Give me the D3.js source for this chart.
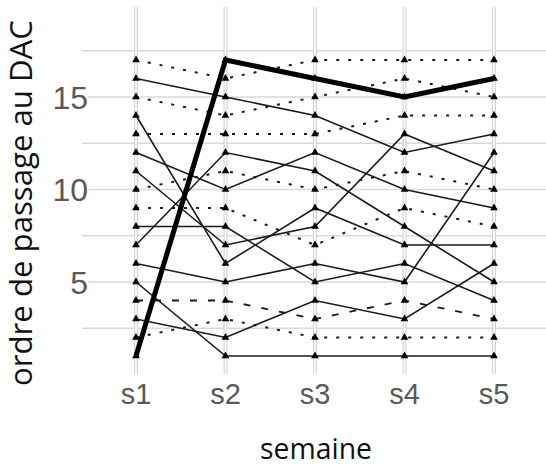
<!DOCTYPE html>
<html><head><meta charset="utf-8">
<script src="https://cdn.jsdelivr.net/npm/d3@7"></script>
<style>html,body{margin:0;padding:0;background:#fff;}svg{display:block;}</style>
</head><body>
<svg id="c" width="546" height="466"></svg>
<script>
const weeks = ["s1","s2","s3","s4","s5"];
const yTicks = [5,10,15];
const yGrid = [2.5,5,7.5,10,12.5,15,17.5];
const thickSeries = [[1,17,16,15,16]];
const solidSeries = [
  [3,2,4,3,6],[5,1,1,1,1],[6,5,6,5,12],[7,12,11,8,5],[8,8,5,6,4],
  [11,7,8,13,11],[12,10,12,10,9],[14,6,9,7,7],[16,15,14,12,13]
];
const dottedSeries = [[2,3,2,2,2],[9,9,7,9,8],[10,11,10,11,10],[13,13,13,14,14],[15,14,15,16,15],[17,16,17,17,17]];
const dashedSeries = [[4,4,3,4,3]];
const xTitle = "semaine";
const yTitle = "ordre de passage au DAC";

const svg = d3.select("#c");
const x = d3.scalePoint().domain(weeks).range([136,494]);
const y = d3.scaleLinear().domain([1,17]).range([356,60]);

// horizontal grid
svg.append("g").selectAll("line").data(yGrid).join("line")
  .attr("x1", d => yTicks.includes(d) ? 88 : 82).attr("x2", 546)
  .attr("y1", d => y(d)).attr("y2", d => y(d))
  .attr("stroke", "#d9d9d9").attr("stroke-width", 1.5);
// vertical grid (double lines)
const vg = svg.append("g");
vg.selectAll("line.a").data(weeks).join("line").attr("class","a")
  .attr("x1", d => x(d)).attr("x2", d => x(d)).attr("y1", 7).attr("y2", 374)
  .attr("stroke", "#d4d4d4").attr("stroke-width", 4);
vg.selectAll("line.b").data(weeks).join("line").attr("class","b")
  .attr("x1", d => x(d)).attr("x2", d => x(d)).attr("y1", 7).attr("y2", 374)
  .attr("stroke", "#fff").attr("stroke-width", 1.6);

// axes labels
svg.append("g").selectAll("text").data(yTicks).join("text")
  .attr("x", 88).attr("y", d => y(d)).attr("dy", "0.36em")
  .attr("text-anchor", "end").attr("font-family", "Liberation Sans, Arial, sans-serif")
  .attr("font-size", 32).attr("fill", "#595959").text(d => d);
svg.append("g").selectAll("text").data(weeks).join("text")
  .attr("x", d => x(d)).attr("y", 404)
  .attr("text-anchor", "middle").attr("font-family", "Liberation Sans, Arial, sans-serif")
  .attr("font-size", 29).attr("fill", "#595959").text(d => d);

const line = d3.line().x((d,i) => x(weeks[i])).y(d => y(d));
const lines = svg.append("g").attr("fill", "none").attr("stroke", "#1a1a1a");
lines.selectAll("path.dot").data(dottedSeries).join("path").attr("class","dot")
  .attr("d", line).attr("stroke-width", 2).attr("stroke-dasharray", "3,9");
lines.selectAll("path.dash").data(dashedSeries).join("path").attr("class","dash")
  .attr("d", line).attr("stroke-width", 1.8).attr("stroke-dasharray", "7,11");
lines.selectAll("path.solid").data(solidSeries).join("path").attr("class","solid")
  .attr("d", line).attr("stroke-width", 1.6);
lines.selectAll("path.thick").data(thickSeries).join("path").attr("class","thick")
  .attr("d", line).attr("stroke-width", 5).attr("stroke", "#000").attr("stroke-linejoin", "miter");

// markers
const allSeries = [].concat(thickSeries, solidSeries, dottedSeries, dashedSeries);
const pts = [];
allSeries.forEach(s => s.forEach((v,i) => pts.push({w: weeks[i], v})));
svg.append("g").selectAll("path").data(pts).join("path")
  .attr("d", d3.symbol(d3.symbolTriangle, 26))
  .attr("transform", d => `translate(${x(d.w)},${y(d.v)})`)
  .attr("fill", "#000");

// titles
const xt = svg.append("text").attr("x", 316).attr("y", 459)
  .attr("text-anchor", "middle").attr("font-family", "Open Sans, sans-serif")
  .attr("font-size", 28).attr("fill", "#111").text(xTitle);
const yt = svg.append("text").attr("transform", "translate(32,203) rotate(-90)")
  .attr("text-anchor", "middle").attr("font-family", "Open Sans, sans-serif")
  .attr("font-size", 28).attr("fill", "#111").text(yTitle);
// fit widths to reference
function fit(t, w){ const L = t.node().getComputedTextLength(); t.attr("font-size", 28*w/L); }
fit(xt, 112); fit(yt, 366);
</script>
</body></html>
